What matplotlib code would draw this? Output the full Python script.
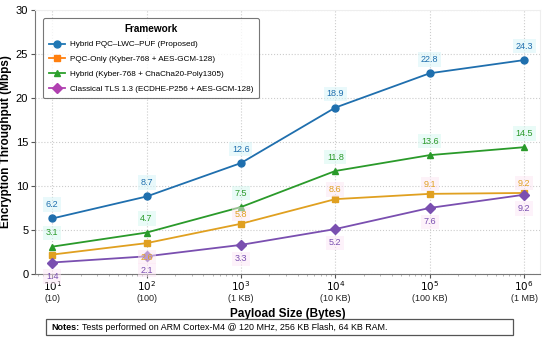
import matplotlib
matplotlib.use("Agg")
import matplotlib.pyplot as plt
from matplotlib.patches import Rectangle
from matplotlib.transforms import blended_transform_factory
import numpy as np

plt.rcParams['font.family'] = ['Liberation Sans', 'DejaVu Sans']

payload = [10, 100, 1000, 10000, 100000, 1000000]
exponents = ["1", "2", "3", "4", "5", "6"]
size_labels = ["(10)", "(100)", "(1 KB)", "(10 KB)", "(100 KB)", "(1 MB)"]

proposed = [6.3, 8.8, 12.6, 18.9, 22.8, 24.3]
proposed_lbl = ["6.2", "8.7", "12.6", "18.9", "22.8", "24.3"]
pqc_only = [2.2, 3.5, 5.7, 8.5, 9.1, 9.2]
pqc_only_lbl = ["", "2.6", "5.8", "8.6", "9.1", "9.2"]
hybrid = [3.1, 4.7, 7.6, 11.7, 13.5, 14.4]
hybrid_lbl = ["3.1", "4.7", "7.5", "11.8", "13.6", "14.5"]
classical = [1.3, 2.0, 3.3, 5.1, 7.5, 9.0]
classical_lbl = ["1.4", "2.1", "3.3", "5.2", "7.6", "9.2"]

names = ["Hybrid PQC\u2013LWC\u2013PUF (Proposed)",
         "PQC-Only (Kyber-768 + AES-GCM-128)",
         "Hybrid (Kyber-768 + ChaCha20-Poly1305)",
         "Classical TLS 1.3 (ECDHE-P256 + AES-GCM-128)"]

fig = plt.figure(figsize=(5.5, 3.42), dpi=100)
ax = fig.add_axes([0.064, 0.199, 0.918, 0.772])

series = [
    (proposed, proposed_lbl, "#1f6fae", "o", [10] * 6, "#d5f5f8"),
    (pqc_only, pqc_only_lbl, "#e0a020", "s", [0, -10, 7, 7, 7, 7], "#fde6f3"),
    (hybrid, hybrid_lbl, "#2a9a2a", "^", [10] * 6, "#d5f8f0"),
    (classical, classical_lbl, "#7a4fb0", "D", [-10] * 6, "#fde6f6"),
]
legend_colors = ["#1f77b4", "#ff7f0e", "#2ca02c", "#b040b0"]

handles = []
for (vals, lbls, col, mk, offs, bg), name, lc in zip(series, names, legend_colors):
    ax.plot(payload, vals, color=col, marker=mk, markersize=5, linewidth=1.3, zorder=3)
    h, = ax.plot([], [], color=lc, marker=mk, markersize=5, linewidth=1.3, label=name)
    handles.append(h)
    for x, v, t, o in zip(payload, vals, lbls, offs):
        if not t:
            continue
        ax.annotate(t, (x, v), xytext=(0, o), textcoords="offset points",
                    ha="center", va="center", fontsize=6.5, color=col, zorder=4,
                    bbox=dict(boxstyle="square,pad=0.3", facecolor=bg, edgecolor="none", alpha=0.5))

ax.set_xscale("log")
ax.set_xlim(10 ** 0.82, 10 ** 6.17)
ax.set_ylim(0, 30)
ax.set_yticks([0, 5, 10, 15, 20, 25, 30])
ax.set_xticks(payload)
ax.set_xticklabels(["$10^{%s}$" % e for e in exponents], fontsize=7.5)
ax.tick_params(axis="y", labelsize=8, length=3, pad=2, color="#555555")
ax.tick_params(axis="x", which="major", length=3, color="#555555", pad=1)
ax.tick_params(axis="x", which="minor", length=1.5, color="#aaaaaa")
trans = blended_transform_factory(ax.transData, ax.transAxes)
for x, s in zip(payload, size_labels):
    ax.annotate(s, (x, 0), xycoords=trans, xytext=(0, -17.5), textcoords="offset points",
                ha="center", va="center", fontsize=6.5, color="#222222")

ax.grid(True, which="major", linestyle=":", color="#cccccc", linewidth=0.8)
ax.set_axisbelow(True)
for s in ["top", "right"]:
    ax.spines[s].set_color("#eeeeee")
for s in ["left", "bottom"]:
    ax.spines[s].set_color("#777777")

ax.set_xlabel("Payload Size (Bytes)", fontsize=8.5, fontweight="bold", labelpad=2)
ax.set_ylabel("Encryption Throughput (Mbps)", fontsize=8.5, fontweight="bold", labelpad=3)
ax.xaxis.set_label_coords(0.5, -0.13)

leg = ax.legend(handles=handles, loc="upper left", bbox_to_anchor=(0.008, 0.985),
                title="Framework", fontsize=5.9, title_fontsize=7.2,
                frameon=True, fancybox=True, edgecolor="#555555",
                handlelength=2.0, handletextpad=0.5, labelspacing=0.85, borderpad=0.7)
leg.get_title().set_fontweight("bold")
leg.get_frame().set_linewidth(0.8)

fig.patches.append(Rectangle((46 / 550, 1 - 335 / 342), 467 / 550, 16 / 342,
                             transform=fig.transFigure, facecolor="white",
                             edgecolor="#555555", linewidth=0.9))
fig.text(51 / 550, 1 - 327 / 342, "Notes:", fontsize=6.5, fontweight="bold", va="center")
fig.text(82 / 550, 1 - 327 / 342,
         "Tests performed on ARM Cortex-M4 @ 120 MHz, 256 KB Flash, 64 KB RAM.",
         fontsize=6.4, va="center")

fig.savefig("out.png", dpi=100)
